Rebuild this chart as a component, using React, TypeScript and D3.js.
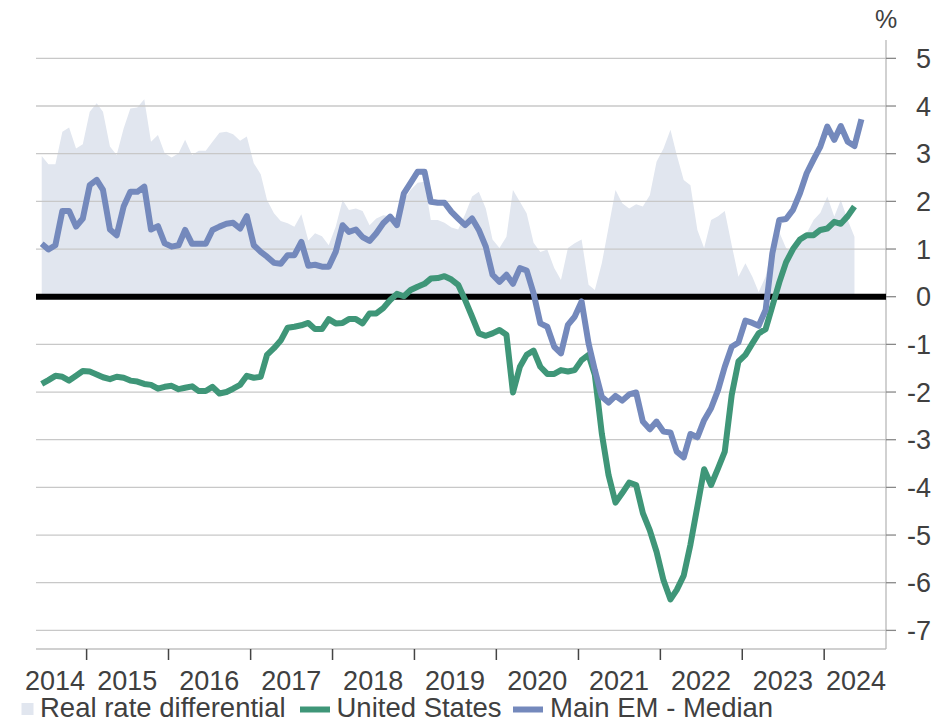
import React from "react";
import * as d3 from "d3";

// Monthly data, June 2014 onward
const START_YEAR = 2014;
const START_MONTH = 5; // June (0-based)

const realRateDiff = [
  2.95, 2.78, 2.78, 3.46, 3.55, 3.11, 3.2, 3.88, 4.06, 3.88, 3.15, 2.97,
  3.53, 3.95, 3.97, 4.14, 3.25, 3.39, 3.01, 2.92, 3.01, 3.29, 2.97, 3.06,
  3.06, 3.25, 3.44, 3.46, 3.41, 3.27, 3.36, 2.8, 2.57, 2.03, 1.75, 1.59,
  1.54, 1.47, 1.73, 1.18, 1.33, 1.27, 1.08, 1.47, 2.03, 1.82, 1.85, 1.8,
  1.5, 1.64, 1.71, 1.69, 1.54, 2.03, 2.24, 2.39, 2.41, 1.61, 1.61, 1.55,
  1.45, 1.41, 1.73, 2.1, 2.2, 1.85, 1.2, 1.02, 1.26, 2.24, 1.99, 1.75,
  1.13, 0.94, 0.99, 0.6, 0.35, 1.02, 1.12, 1.2, 0.25, 0.14, 0.7, 1.45,
  2.24, 1.96, 1.85, 1.94, 1.89, 2.13, 2.83, 3.11, 3.5, 2.97, 2.45, 2.34,
  1.4, 1.02, 1.61, 1.69, 1.8, 1.08, 0.42, 0.7, 0.42, 0.1, 0.42, 1.1,
  1.35, 1.02, 0.91, 1.19, 1.33, 1.61, 1.76, 2.1, 1.68, 2.03, 1.61, 1.26,
];

const unitedStates = [
  -1.83, -1.75, -1.66, -1.68, -1.76, -1.66, -1.56, -1.57, -1.63, -1.69, -1.73, -1.68,
  -1.7, -1.76, -1.78, -1.83, -1.85, -1.93, -1.89, -1.87, -1.94, -1.91, -1.88, -1.98,
  -1.98, -1.89, -2.03, -2.0, -1.93, -1.85, -1.66, -1.7, -1.68, -1.22, -1.08, -0.92,
  -0.65, -0.63, -0.6, -0.55, -0.68, -0.68, -0.47, -0.56, -0.55, -0.47, -0.47, -0.56,
  -0.35, -0.35, -0.24, -0.07, 0.06, 0.01, 0.14, 0.21, 0.27, 0.38, 0.39, 0.43,
  0.36, 0.25, -0.07, -0.42, -0.77, -0.82, -0.77, -0.7, -0.8, -2.01, -1.47, -1.22,
  -1.13, -1.47, -1.62, -1.62, -1.54, -1.57, -1.54, -1.33, -1.22, -1.64, -2.87, -3.74,
  -4.32, -4.12, -3.9, -3.95, -4.54, -4.9, -5.35, -5.95, -6.35, -6.15, -5.85, -5.2,
  -4.4, -3.62, -3.95, -3.6, -3.25, -2.06, -1.36, -1.22, -0.98, -0.77, -0.68, -0.2,
  0.3, 0.72, 1.0, 1.2, 1.29, 1.29, 1.4, 1.43, 1.57, 1.53, 1.69, 1.89,
];

const mainEmMedian = [
  1.11, 0.99, 1.08, 1.8, 1.8, 1.47, 1.64, 2.34, 2.45, 2.24, 1.41, 1.29,
  1.89, 2.2, 2.2, 2.31, 1.41, 1.48, 1.12, 1.05, 1.08, 1.4, 1.11, 1.11,
  1.11, 1.4, 1.47, 1.53, 1.55, 1.43, 1.69, 1.08, 0.94, 0.84, 0.71, 0.69,
  0.87, 0.87, 1.15, 0.65, 0.67, 0.63, 0.63, 0.94, 1.5, 1.36, 1.41, 1.25,
  1.17, 1.33, 1.54, 1.68, 1.5, 2.17, 2.39, 2.62, 2.62, 1.99, 1.97, 1.97,
  1.78, 1.64, 1.5, 1.64, 1.4, 1.05, 0.46, 0.31, 0.46, 0.27, 0.6, 0.55,
  0.07, -0.56, -0.63, -1.05, -1.19, -0.59, -0.42, -0.1, -0.98, -1.54, -2.1, -2.22,
  -2.08, -2.18, -2.05, -2.01, -2.62, -2.78, -2.62, -2.83, -2.85, -3.25, -3.37, -2.88,
  -2.95, -2.59, -2.34, -1.96, -1.47, -1.05, -0.96, -0.5, -0.55, -0.61, -0.28, 0.91,
  1.61, 1.63, 1.82, 2.17, 2.59, 2.88, 3.15, 3.57, 3.29, 3.58, 3.25, 3.16, 3.72,
];

const yearLabels = [2014, 2015, 2016, 2017, 2018, 2019, 2020, 2021, 2022, 2023, 2024];
const yTicks = [5, 4, 3, 2, 1, 0, -1, -2, -3, -4, -5, -6, -7];

const W = 940;
const H = 723;
const PLOT_L = 36;
const PLOT_R = 886;
const PLOT_T = 40;
const PLOT_B = 649;

const FONT = "'Liberation Sans', Arial, Helvetica, sans-serif";
const TEXT = "#404040";
const AREA = "#e1e6ef";
const GREEN = "#3f9678";
const BLUE = "#7489bc";
const GRID = "#c8c8c8";

const monthDate = (i: number) => new Date(START_YEAR, START_MONTH + i, 15);

export default function App() {
  const x = d3
    .scaleTime()
    .domain([new Date(2014, 0, 1), new Date(2025, 0, 1)])
    .range([4.7, 906.3]);
  const y = d3.scaleLinear().domain([0, 5]).range([296.7, 58.35]);

  const area = d3
    .area<number>()
    .x((_, i) => x(monthDate(i)))
    .y0(y(0))
    .y1((d) => y(d));
  const line = d3
    .line<number>()
    .x((_, i) => x(monthDate(i)))
    .y((d) => y(d));

  const yearTicks = d3.range(2015, 2025).map((yr) => x(new Date(yr, 0, 1)));

  const labelW = 60;
  const yearLabelX = (yr: number) => {
    const c = x(new Date(yr, 6, 1));
    return Math.max(25 + labelW / 2, Math.min(PLOT_R - labelW / 2, c));
  };

  return (
    <svg
      width={W}
      height={H}
      style={{ position: "absolute", left: 0, top: 0, background: "#fff" }}
      fontFamily={FONT}
    >
      <path d={area(realRateDiff) || ""} fill={AREA} />
      {yTicks.map((t) => (
        <line
          key={"g" + t}
          x1={PLOT_L}
          x2={PLOT_R}
          y1={y(t)}
          y2={y(t)}
          stroke={GRID}
          strokeWidth={1.3}
        />
      ))}
      {/* bottom axis line */}
      <line x1={PLOT_L} x2={PLOT_R} y1={PLOT_B} y2={PLOT_B} stroke="#c0c0c0" strokeWidth={1.3} />
      {/* right axis line */}
      <line x1={PLOT_R} x2={PLOT_R} y1={PLOT_T} y2={PLOT_B} stroke="#b8b8b8" strokeWidth={1.3} />
      {yTicks.map((t) => (
        <g key={"t" + t}>
          <line x1={PLOT_R} x2={PLOT_R + 10} y1={y(t)} y2={y(t)} stroke="#888" strokeWidth={1.3} />
          <text
            x={931}
            y={y(t) + 9.7}
            textAnchor="end"
            fontSize={27}
            fill={TEXT}
          >
            {t}
          </text>
        </g>
      ))}
      <text x={886} y={28} textAnchor="middle" fontSize={25} fill={TEXT}>
        %
      </text>
      {/* zero line */}
      <line x1={PLOT_L} x2={PLOT_R} y1={y(0)} y2={y(0)} stroke="#000" strokeWidth={6} />
      <path
        d={line(unitedStates) || ""}
        fill="none"
        stroke={GREEN}
        strokeWidth={6}
        strokeLinejoin="round"
      />
      <path
        d={line(mainEmMedian) || ""}
        fill="none"
        stroke={BLUE}
        strokeWidth={6}
        strokeLinejoin="round"
      />
      {yearTicks.map((tx, i) => (
        <line key={"yt" + i} x1={tx} x2={tx} y1={PLOT_B} y2={PLOT_B + 11} stroke="#444" strokeWidth={1.5} />
      ))}
      {yearLabels.map((yr) => (
        <text key={"yl" + yr} x={yearLabelX(yr)} y={690} textAnchor="middle" fontSize={27} fill={TEXT}>
          {yr}
        </text>
      ))}
      {/* legend */}
      <rect x={21.5} y={703} width={12} height={12} fill={AREA} />
      <text x={40} y={716.5} fontSize={27.5} fill={TEXT}>
        Real rate differential
      </text>
      <line x1={300} x2={330} y1={709.5} y2={709.5} stroke={GREEN} strokeWidth={6} />
      <text x={336.5} y={716.5} fontSize={27.5} fill={TEXT}>
        United States
      </text>
      <line x1={513} x2={543} y1={709.5} y2={709.5} stroke={BLUE} strokeWidth={6} />
      <text x={550} y={716.5} fontSize={27.5} fill={TEXT}>
        Main EM - Median
      </text>
    </svg>
  );
}
